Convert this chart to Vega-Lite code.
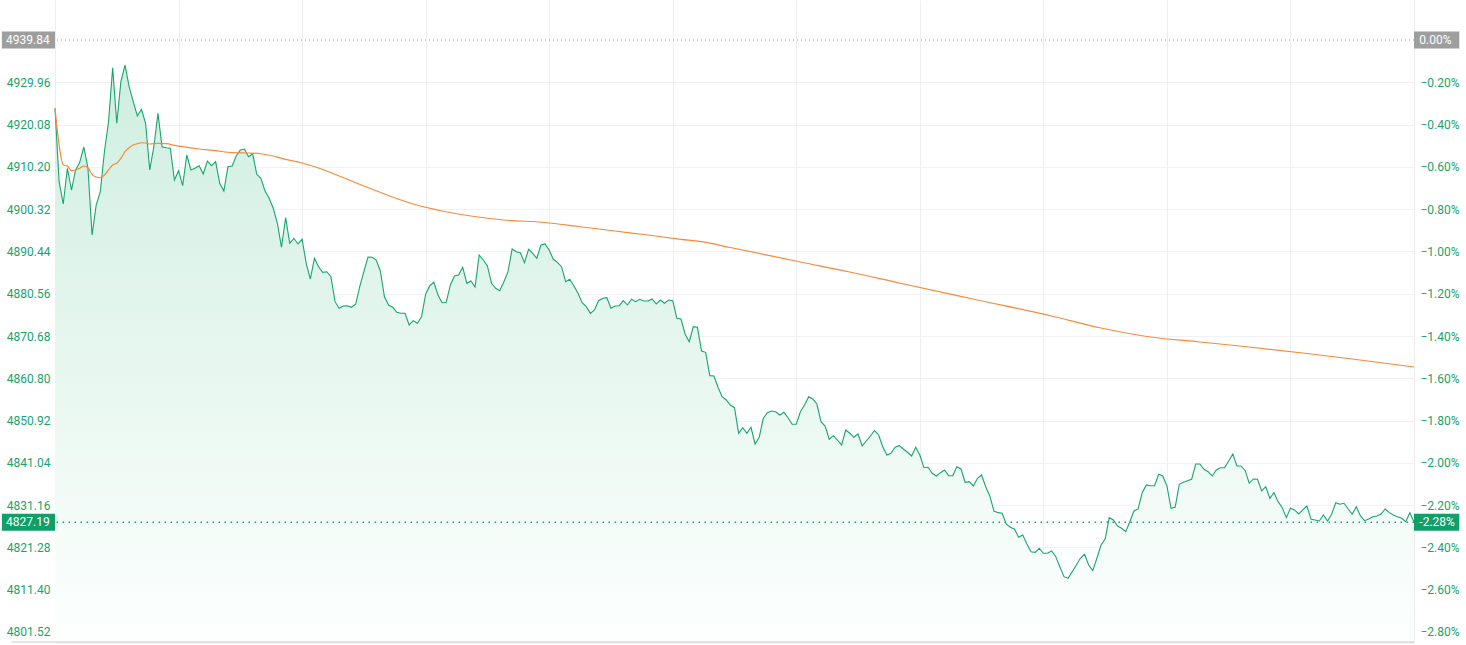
{
  "$schema": "https://vega.github.io/schema/vega-lite/v6.json",
  "width": 1359,
  "height": 642,
  "autosize": {"type": "none"},
  "padding": {"left": 55, "top": 0, "right": 52, "bottom": 3},
  "background": "#ffffff",
  "config": {
    "view": {"stroke": null},
    "font": "Roboto",
    "axis": {"labelFont": "Roboto", "labelFontSize": 12},
    "scale": {"continuousPadding": 0}
  },
  "datasets": {
    "main": [
      {"i":0,"p":4923.88},{"i":1,"p":4906.73},{"i":2,"p":4901.52},{"i":3,"p":4909.86},{"i":4,"p":4904.79},{"i":5,"p":4909.47},{"i":6,"p":4911.27},{"i":7,"p":4914.84},{"i":8,"p":4909.93},{"i":9,"p":4894.28},
      {"i":10,"p":4901.29},{"i":11,"p":4904.40},{"i":12,"p":4913.74},{"i":13,"p":4920.75},{"i":14,"p":4933.37},{"i":15,"p":4920.38},{"i":16,"p":4930.10},{"i":17,"p":4934.00},{"i":18,"p":4928.93},{"i":19,"p":4925.42},
      {"i":20,"p":4922.08},{"i":21,"p":4923.65},{"i":22,"p":4920.38},{"i":23,"p":4909.47},{"i":24,"p":4914.91},{"i":25,"p":4922.71},{"i":26,"p":4914.91},{"i":27,"p":4914.68},{"i":28,"p":4914.54},{"i":29,"p":4907.13},
      {"i":30,"p":4909.30},{"i":31,"p":4905.80},{"i":32,"p":4912.97},{"i":33,"p":4909.47},{"i":34,"p":4909.86},{"i":35,"p":4910.47},{"i":36,"p":4908.53},{"i":37,"p":4911.57},{"i":38,"p":4910.47},{"i":39,"p":4911.41},
      {"i":40,"p":4906.36},{"i":41,"p":4904.56},{"i":42,"p":4910.24},{"i":43,"p":4910.40},{"i":44,"p":4912.74},{"i":45,"p":4914.14},{"i":46,"p":4914.37},{"i":47,"p":4912.57},{"i":48,"p":4913.20},{"i":49,"p":4908.46},
      {"i":50,"p":4907.53},{"i":51,"p":4904.56},{"i":52,"p":4902.85},{"i":53,"p":4900.52},{"i":54,"p":4897.01},{"i":55,"p":4891.41},{"i":56,"p":4898.32},{"i":57,"p":4892.34},{"i":58,"p":4893.51},{"i":59,"p":4892.18},
      {"i":60,"p":4893.27},{"i":61,"p":4887.67},{"i":62,"p":4884.00},{"i":63,"p":4888.84},{"i":64,"p":4886.87},{"i":65,"p":4885.56},{"i":66,"p":4885.70},{"i":67,"p":4884.54},{"i":68,"p":4878.70},{"i":69,"p":4877.15},
      {"i":70,"p":4877.69},{"i":71,"p":4877.76},{"i":72,"p":4877.39},{"i":73,"p":4878.09},{"i":74,"p":4882.20},{"i":75,"p":4885.70},{"i":76,"p":4889.14},{"i":77,"p":4889.07},{"i":78,"p":4888.44},{"i":79,"p":4885.87},
      {"i":80,"p":4879.86},{"i":81,"p":4877.92},{"i":82,"p":4877.39},{"i":83,"p":4876.22},{"i":84,"p":4875.98},{"i":85,"p":4875.98},{"i":86,"p":4873.25},{"i":87,"p":4874.26},{"i":88,"p":4873.65},{"i":89,"p":4875.19},
      {"i":90,"p":4880.42},{"i":91,"p":4882.43},{"i":92,"p":4883.23},{"i":93,"p":4880.26},{"i":94,"p":4878.46},{"i":95,"p":4878.55},{"i":96,"p":4882.60},{"i":97,"p":4884.70},{"i":98,"p":4884.93},{"i":99,"p":4886.73},
      {"i":100,"p":4882.99},{"i":101,"p":4883.53},{"i":102,"p":4882.13},{"i":103,"p":4889.61},{"i":104,"p":4888.44},{"i":105,"p":4887.04},{"i":106,"p":4882.99},{"i":107,"p":4881.83},{"i":108,"p":4881.27},{"i":109,"p":4883.37},
      {"i":110,"p":4885.70},{"i":111,"p":4891.01},{"i":112,"p":4890.38},{"i":113,"p":4890.14},{"i":114,"p":4887.81},{"i":115,"p":4890.94},{"i":116,"p":4890.00},{"i":117,"p":4888.84},{"i":118,"p":4891.94},{"i":119,"p":4892.18},
      {"i":120,"p":4890.77},{"i":121,"p":4888.60},{"i":122,"p":4887.90},{"i":123,"p":4886.87},{"i":124,"p":4883.37},{"i":125,"p":4883.93},{"i":126,"p":4882.36},{"i":127,"p":4880.66},{"i":128,"p":4878.46},{"i":129,"p":4877.53},
      {"i":130,"p":4875.98},{"i":131,"p":4876.76},{"i":132,"p":4878.93},{"i":133,"p":4879.49},{"i":134,"p":4879.63},{"i":135,"p":4877.15},{"i":136,"p":4877.69},{"i":137,"p":4877.76},{"i":138,"p":4878.93},{"i":139,"p":4877.92},
      {"i":140,"p":4879.26},{"i":141,"p":4878.70},{"i":142,"p":4879.26},{"i":143,"p":4878.86},{"i":144,"p":4878.86},{"i":145,"p":4879.33},{"i":146,"p":4878.16},{"i":147,"p":4879.09},{"i":148,"p":4878.32},{"i":149,"p":4879.09},
      {"i":150,"p":4878.93},{"i":151,"p":4874.82},{"i":152,"p":4874.65},{"i":153,"p":4871.15},{"i":154,"p":4869.35},{"i":155,"p":4872.85},{"i":156,"p":4872.71},{"i":157,"p":4867.18},{"i":158,"p":4866.87},{"i":159,"p":4861.41},
      {"i":160,"p":4861.34},{"i":161,"p":4858.70},{"i":162,"p":4856.50},{"i":163,"p":4855.73},{"i":164,"p":4854.56},{"i":165,"p":4853.93},{"i":166,"p":4847.95},{"i":167,"p":4849.26},{"i":168,"p":4847.95},{"i":169,"p":4849.35},
      {"i":170,"p":4845.45},{"i":171,"p":4847.01},{"i":172,"p":4851.45},{"i":173,"p":4852.76},{"i":174,"p":4853.16},{"i":175,"p":4852.99},{"i":176,"p":4852.22},{"i":177,"p":4852.85},{"i":178,"p":4851.59},{"i":179,"p":4850.05},
      {"i":180,"p":4850.05},{"i":181,"p":4852.99},{"i":182,"p":4854.56},{"i":183,"p":4856.50},{"i":184,"p":4855.96},{"i":185,"p":4854.79},{"i":186,"p":4850.66},{"i":187,"p":4849.65},{"i":188,"p":4846.55},{"i":189,"p":4847.39},
      {"i":190,"p":4846.38},{"i":191,"p":4845.21},{"i":192,"p":4848.72},{"i":193,"p":4847.95},{"i":194,"p":4847.01},{"i":195,"p":4847.78},{"i":196,"p":4844.98},{"i":197,"p":4846.15},{"i":198,"p":4847.32},{"i":199,"p":4848.55},
      {"i":200,"p":4847.55},{"i":201,"p":4844.82},{"i":202,"p":4842.88},{"i":203,"p":4843.27},{"i":204,"p":4844.68},{"i":205,"p":4845.05},{"i":206,"p":4844.28},{"i":207,"p":4843.51},{"i":208,"p":4842.64},{"i":209,"p":4844.68},
      {"i":210,"p":4842.88},{"i":211,"p":4839.91},{"i":212,"p":4840.00},{"i":213,"p":4838.60},{"i":214,"p":4837.97},{"i":215,"p":4838.74},{"i":216,"p":4839.37},{"i":217,"p":4838.04},{"i":218,"p":4838.04},{"i":219,"p":4840.14},
      {"i":220,"p":4839.61},{"i":221,"p":4836.50},{"i":222,"p":4836.64},{"i":223,"p":4835.63},{"i":224,"p":4837.43},{"i":225,"p":4838.20},{"i":226,"p":4835.47},{"i":227,"p":4833.30},{"i":228,"p":4829.79},{"i":229,"p":4829.40},
      {"i":230,"p":4829.26},{"i":231,"p":4826.69},{"i":232,"p":4825.98},{"i":233,"p":4825.52},{"i":234,"p":4823.65},{"i":235,"p":4824.19},{"i":236,"p":4822.08},{"i":237,"p":4820.28},{"i":238,"p":4820.14},{"i":239,"p":4821.08},
      {"i":240,"p":4819.91},{"i":241,"p":4819.91},{"i":242,"p":4820.45},{"i":243,"p":4819.12},{"i":244,"p":4816.78},{"i":245,"p":4814.44},{"i":246,"p":4814.07},{"i":247,"p":4815.61},{"i":248,"p":4817.18},{"i":249,"p":4818.74},
      {"i":250,"p":4819.68},{"i":251,"p":4817.18},{"i":252,"p":4815.85},{"i":253,"p":4818.74},{"i":254,"p":4821.85},{"i":255,"p":4823.25},{"i":256,"p":4828.23},{"i":257,"p":4827.69},{"i":258,"p":4826.29},{"i":259,"p":4825.75},
      {"i":260,"p":4824.96},{"i":261,"p":4827.29},{"i":262,"p":4829.79},{"i":263,"p":4830.26},{"i":264,"p":4834.07},{"i":265,"p":4835.87},{"i":266,"p":4835.70},{"i":267,"p":4835.70},{"i":268,"p":4838.37},{"i":269,"p":4837.97},
      {"i":270,"p":4835.63},{"i":271,"p":4830.42},{"i":272,"p":4830.66},{"i":273,"p":4836.03},{"i":274,"p":4836.50},{"i":275,"p":4836.87},{"i":276,"p":4837.20},{"i":277,"p":4840.77},{"i":278,"p":4840.77},{"i":279,"p":4839.54},
      {"i":280,"p":4838.98},{"i":281,"p":4837.97},{"i":282,"p":4839.37},{"i":283,"p":4839.91},{"i":284,"p":4839.91},{"i":285,"p":4841.48},{"i":286,"p":4843.11},{"i":287,"p":4840.31},{"i":288,"p":4840.31},{"i":289,"p":4839.21},
      {"i":290,"p":4836.27},{"i":291,"p":4837.27},{"i":292,"p":4837.20},{"i":293,"p":4834.47},{"i":294,"p":4835.47},{"i":295,"p":4832.76},{"i":296,"p":4834.07},{"i":297,"p":4831.97},{"i":298,"p":4830.56},{"i":299,"p":4828.23},
      {"i":300,"p":4830.42},{"i":301,"p":4830.03},{"i":302,"p":4829.09},{"i":303,"p":4830.03},{"i":304,"p":4830.96},{"i":305,"p":4827.85},{"i":306,"p":4827.69},{"i":307,"p":4827.46},{"i":308,"p":4828.86},{"i":309,"p":4827.46},
      {"i":310,"p":4829.02},{"i":311,"p":4831.73},{"i":312,"p":4831.36},{"i":313,"p":4831.59},{"i":314,"p":4830.26},{"i":315,"p":4829.09},{"i":316,"p":4830.80},{"i":317,"p":4828.63},{"i":318,"p":4827.53},{"i":319,"p":4827.92},
      {"i":320,"p":4828.46},{"i":321,"p":4828.63},{"i":322,"p":4829.09},{"i":323,"p":4830.26},{"i":324,"p":4829.40},{"i":325,"p":4828.86},{"i":326,"p":4828.46},{"i":327,"p":4828.09},{"i":328,"p":4827.29},{"i":329,"p":4829.40},
      {"i":330,"p":4827.19}
    ],
    "avg": [
      {"i":0,"a":4923.88},{"i":1,"a":4915.31},{"i":2,"a":4910.63},{"i":3,"a":4910.40},{"i":4,"a":4909.30},{"i":5,"a":4909.47},{"i":6,"a":4909.86},{"i":7,"a":4910.40},{"i":8,"a":4910.00},{"i":9,"a":4908.46},
      {"i":10,"a":4907.83},{"i":11,"a":4907.67},{"i":12,"a":4908.30},{"i":13,"a":4909.47},{"i":14,"a":4910.63},{"i":15,"a":4911.03},{"i":16,"a":4912.20},{"i":17,"a":4913.74},{"i":18,"a":4914.68},{"i":19,"a":4915.31},
      {"i":20,"a":4915.61},{"i":21,"a":4915.84},{"i":22,"a":4915.77},{"i":23,"a":4915.54},{"i":25,"a":4915.70},{"i":27,"a":4915.61},{"i":29,"a":4915.24},{"i":31,"a":4914.91},{"i":35,"a":4914.37},{"i":39,"a":4913.98},
      {"i":43,"a":4913.51},{"i":47,"a":4913.44},{"i":50,"a":4913.27},{"i":53,"a":4912.74},{"i":55,"a":4912.20},{"i":60,"a":4911.10},{"i":64,"a":4909.93},{"i":69,"a":4908.06},{"i":75,"a":4905.73},{"i":80,"a":4903.86},
      {"i":84,"a":4902.46},{"i":87,"a":4901.52},{"i":94,"a":4899.89},{"i":101,"a":4898.72},{"i":109,"a":4897.78},{"i":119,"a":4897.20},{"i":127,"a":4896.27},{"i":136,"a":4895.21},{"i":144,"a":4894.28},{"i":152,"a":4893.27},
      {"i":157,"a":4892.71},{"i":164,"a":4891.36},{"i":181,"a":4887.97},{"i":193,"a":4885.63},{"i":205,"a":4883.06},{"i":224,"a":4879.09},{"i":242,"a":4875.35},{"i":254,"a":4872.55},{"i":266,"a":4870.45},{"i":278,"a":4869.28},
      {"i":290,"a":4868.11},{"i":303,"a":4866.71},{"i":315,"a":4865.31},{"i":330,"a":4863.44}
    ],
    "marks": [
      {"kind":"prev","price":4939.84,"label":"4939.84","pct":"0.00%"},
      {"kind":"last","price":4827.19,"label":"4827.19","pct":"-2.28%"}
    ]
  },
  "resolve": {"axis": {"y": "independent"}},
  "layer": [
    {
      "data": {"name": "main"},
      "mark": {"type": "area", "interpolate": "linear", "color": {"gradient": "linear", "x1": 0, "y1": 0, "x2": 0, "y2": 1, "stops": [{"offset": 0, "color": "#cfeee0"}, {"offset": 1, "color": "#fdfffe"}]}},
      "encoding": {
        "x": {"field": "i", "type": "quantitative", "title": null, "scale": {"domain": [0, 330], "nice": false, "zero": false, "padding": 0},
          "axis": {"orient": "bottom", "values": [0,30,60,90,120,150,180,210,240,270,300,330], "labels": false, "ticks": false, "grid": true, "gridColor": "#eeeeee", "gridWidth": 1, "domain": true, "domainColor": "#dcdcdc", "domainWidth": 1.5}},
        "y": {"field": "p", "type": "quantitative", "title": null, "scale": {"domain": [4799.18, 4949.19], "nice": false, "zero": false, "padding": 0},
          "axis": {"orient": "left", "values": [4801.52,4811.40,4821.28,4831.16,4841.04,4850.92,4860.80,4870.68,4880.56,4890.44,4900.32,4910.20,4920.08,4929.96], "format": ".2f", "labelColor": "#16a46c", "labelPadding": 5, "ticks": false, "domain": false, "grid": true, "gridColor": "#f1f1f1", "gridWidth": 1, "labelBaseline": "middle"}},
        "y2": {"datum": 4799.18}
      }
    },
    {
      "data": {"name": "main"},
      "mark": {"type": "line", "color": "#17a56f", "strokeWidth": 1.1, "interpolate": "linear"},
      "encoding": {
        "x": {"field": "i", "type": "quantitative", "title": null, "scale": {"domain": [0, 330], "nice": false, "zero": false, "padding": 0}},
        "y": {"field": "p", "type": "quantitative", "title": null, "scale": {"domain": [4799.18, 4949.19], "nice": false, "zero": false, "padding": 0},
          "axis": {"orient": "right", "values": [4801.52,4811.40,4821.28,4831.16,4841.04,4850.92,4860.80,4870.68,4880.56,4890.44,4900.32,4910.20,4920.08,4929.96], "labelExpr": "format((datum.value - 4939.84) / 4939.84 * 100, '.2f') + '%'", "labelColor": "#16a46c", "labelPadding": 6, "ticks": false, "domain": false, "grid": false, "labelBaseline": "middle"}}
      }
    },
    {
      "data": {"name": "avg"},
      "mark": {"type": "line", "color": "#f7893a", "strokeWidth": 1.2, "interpolate": "monotone"},
      "encoding": {
        "x": {"field": "i", "type": "quantitative", "title": null, "scale": {"domain": [0, 330], "nice": false, "zero": false, "padding": 0}},
        "y": {"field": "a", "type": "quantitative", "title": null, "axis": null, "scale": {"domain": [4799.18, 4949.19], "nice": false, "zero": false, "padding": 0}}
      }
    },
    {
      "data": {"name": "marks"},
      "transform": [{"filter": "datum.kind == 'prev'"}],
      "mark": {"type": "rule", "color": "#9a9a9a", "strokeWidth": 1, "strokeDash": [1, 3]},
      "encoding": {
        "y": {"field": "price", "type": "quantitative", "title": null, "axis": null, "scale": {"domain": [4799.18, 4949.19], "nice": false, "zero": false, "padding": 0}}
      }
    },
    {
      "data": {"name": "marks"},
      "transform": [{"filter": "datum.kind == 'last'"}],
      "mark": {"type": "rule", "color": "#16a46c", "strokeWidth": 1.5, "strokeDash": [1.5, 4.5]},
      "encoding": {
        "y": {"field": "price", "type": "quantitative", "title": null, "axis": null, "scale": {"domain": [4799.18, 4949.19], "nice": false, "zero": false, "padding": 0}}
      }
    },
    {
      "data": {"name": "marks"},
      "transform": [{"filter": "datum.kind == 'prev'"}],
      "mark": {"type": "rule", "color": "#dcdcdc", "strokeWidth": 1.5, "clip": false},
      "encoding": {
        "x": {"datum": -10.6, "type": "quantitative", "title": null, "scale": {"domain": [0, 330], "nice": false, "zero": false, "padding": 0}},
        "x2": {"datum": 330},
        "y": {"datum": 4799.18, "type": "quantitative", "title": null, "axis": null, "scale": {"domain": [4799.18, 4949.19], "nice": false, "zero": false, "padding": 0}}
      }
    },
    {
      "data": {"name": "marks"},
      "mark": {"type": "bar", "height": 17, "clip": false, "orient": "horizontal"},
      "encoding": {
        "x": {"datum": -12.9, "type": "quantitative", "title": null, "scale": {"domain": [0, 330], "nice": false, "zero": false, "padding": 0}},
        "x2": {"datum": 0},
        "y": {"field": "price", "type": "quantitative", "title": null, "axis": null, "scale": {"domain": [4799.18, 4949.19], "nice": false, "zero": false, "padding": 0}},
        "color": {"field": "kind", "type": "nominal", "legend": null, "scale": {"domain": ["prev", "last"], "range": ["#9e9e9e", "#0f9f68"]}}
      }
    },
    {
      "data": {"name": "marks"},
      "mark": {"type": "bar", "height": 17, "clip": false, "orient": "horizontal"},
      "encoding": {
        "x": {"datum": 330, "type": "quantitative", "title": null, "scale": {"domain": [0, 330], "nice": false, "zero": false, "padding": 0}},
        "x2": {"datum": 341},
        "y": {"field": "price", "type": "quantitative", "title": null, "axis": null, "scale": {"domain": [4799.18, 4949.19], "nice": false, "zero": false, "padding": 0}},
        "color": {"field": "kind", "type": "nominal", "legend": null, "scale": {"domain": ["prev", "last"], "range": ["#9e9e9e", "#0f9f68"]}}
      }
    },
    {
      "data": {"name": "marks"},
      "mark": {"type": "text", "align": "right", "baseline": "middle", "color": "#ffffff", "fontSize": 12, "font": "Roboto", "clip": false},
      "encoding": {
        "x": {"datum": -1.3, "type": "quantitative", "title": null, "scale": {"domain": [0, 330], "nice": false, "zero": false, "padding": 0}},
        "y": {"field": "price", "type": "quantitative", "title": null, "axis": null, "scale": {"domain": [4799.18, 4949.19], "nice": false, "zero": false, "padding": 0}},
        "text": {"field": "label"}
      }
    },
    {
      "data": {"name": "marks"},
      "mark": {"type": "text", "align": "left", "baseline": "middle", "color": "#ffffff", "fontSize": 12, "font": "Roboto", "clip": false},
      "encoding": {
        "x": {"datum": 331.3, "type": "quantitative", "title": null, "scale": {"domain": [0, 330], "nice": false, "zero": false, "padding": 0}},
        "y": {"field": "price", "type": "quantitative", "title": null, "axis": null, "scale": {"domain": [4799.18, 4949.19], "nice": false, "zero": false, "padding": 0}},
        "text": {"field": "pct"}
      }
    }
  ]
}
